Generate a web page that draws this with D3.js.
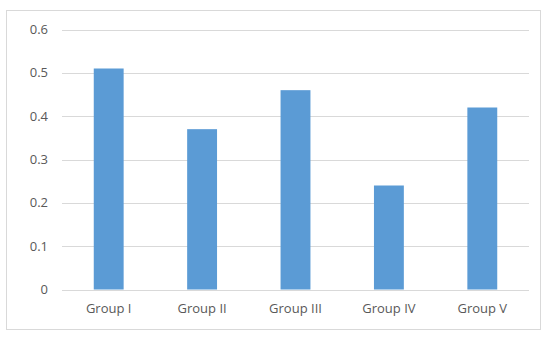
<!DOCTYPE html>
<html>
<head>
<meta charset="utf-8">
<script src="https://cdn.jsdelivr.net/npm/d3@7"></script>
<style>
  body { margin: 0; background: #fff; }
  text { font-family: "Open Sans", "DejaVu Sans", sans-serif; fill: #595959; }
</style>
</head>
<body>
<div id="chart"></div>
<script>
var groups = ['Group I', 'Group II', 'Group III', 'Group IV', 'Group V'];
var values = [0.51, 0.37, 0.46, 0.24, 0.42];
var yTicks = [0, 0.1, 0.2, 0.3, 0.4, 0.5, 0.6];

var w = 550, h = 339;
var margin = {top: 29.5, right: 21, bottom: 49.5, left: 62};

var svg = d3.select('#chart').append('svg')
	.attr('width', w)
	.attr('height', h);

// outer frame
svg.append('rect')
	.attr('x', 6.5).attr('y', 10.5)
	.attr('width', 534).attr('height', 319)
	.style('fill', 'none')
	.style('stroke', '#d9d9d9')
	.style('stroke-width', 1);

var x = d3.scaleBand()
	.domain(groups)
	.range([margin.left, w - margin.right])
	.paddingInner(0.68)
	.paddingOuter(0.34);

var y = d3.scaleLinear()
	.domain([0, 0.6])
	.range([h - margin.bottom, margin.top]);

// gridlines
svg.append('g')
	.selectAll('line')
	.data(yTicks)
	.enter().append('line')
	.attr('x1', margin.left)
	.attr('x2', w - margin.right)
	.attr('y1', function(d) { return Math.round(y(d)) + 0.5; })
	.attr('y2', function(d) { return Math.round(y(d)) + 0.5; })
	.style('stroke', '#d9d9d9')
	.style('stroke-width', 1);

// y labels
svg.append('g')
	.selectAll('text')
	.data(yTicks)
	.enter().append('text')
	.attr('x', 48)
	.attr('y', function(d) { return y(d); })
	.attr('dy', '0.35em')
	.attr('text-anchor', 'end')
	.style('font-size', '13px')
	.text(function(d) { return d === 0 ? '0' : d3.format('.1f')(d); });

// bars
svg.append('g')
	.selectAll('rect')
	.data(values)
	.enter().append('rect')
	.attr('x', function(d, i) { return x(groups[i]); })
	.attr('width', x.bandwidth())
	.attr('y', function(d) { return y(d); })
	.attr('height', function(d) { return y(0) - y(d); })
	.style('fill', '#5b9bd5');

// x labels
svg.append('g')
	.selectAll('text')
	.data(groups)
	.enter().append('text')
	.attr('x', function(d) { return x(d) + x.bandwidth() / 2; })
	.attr('y', 308)
	.attr('dy', '0.35em')
	.attr('text-anchor', 'middle')
	.style('font-size', '13px')
	.text(String);
</script>
</body>
</html>
